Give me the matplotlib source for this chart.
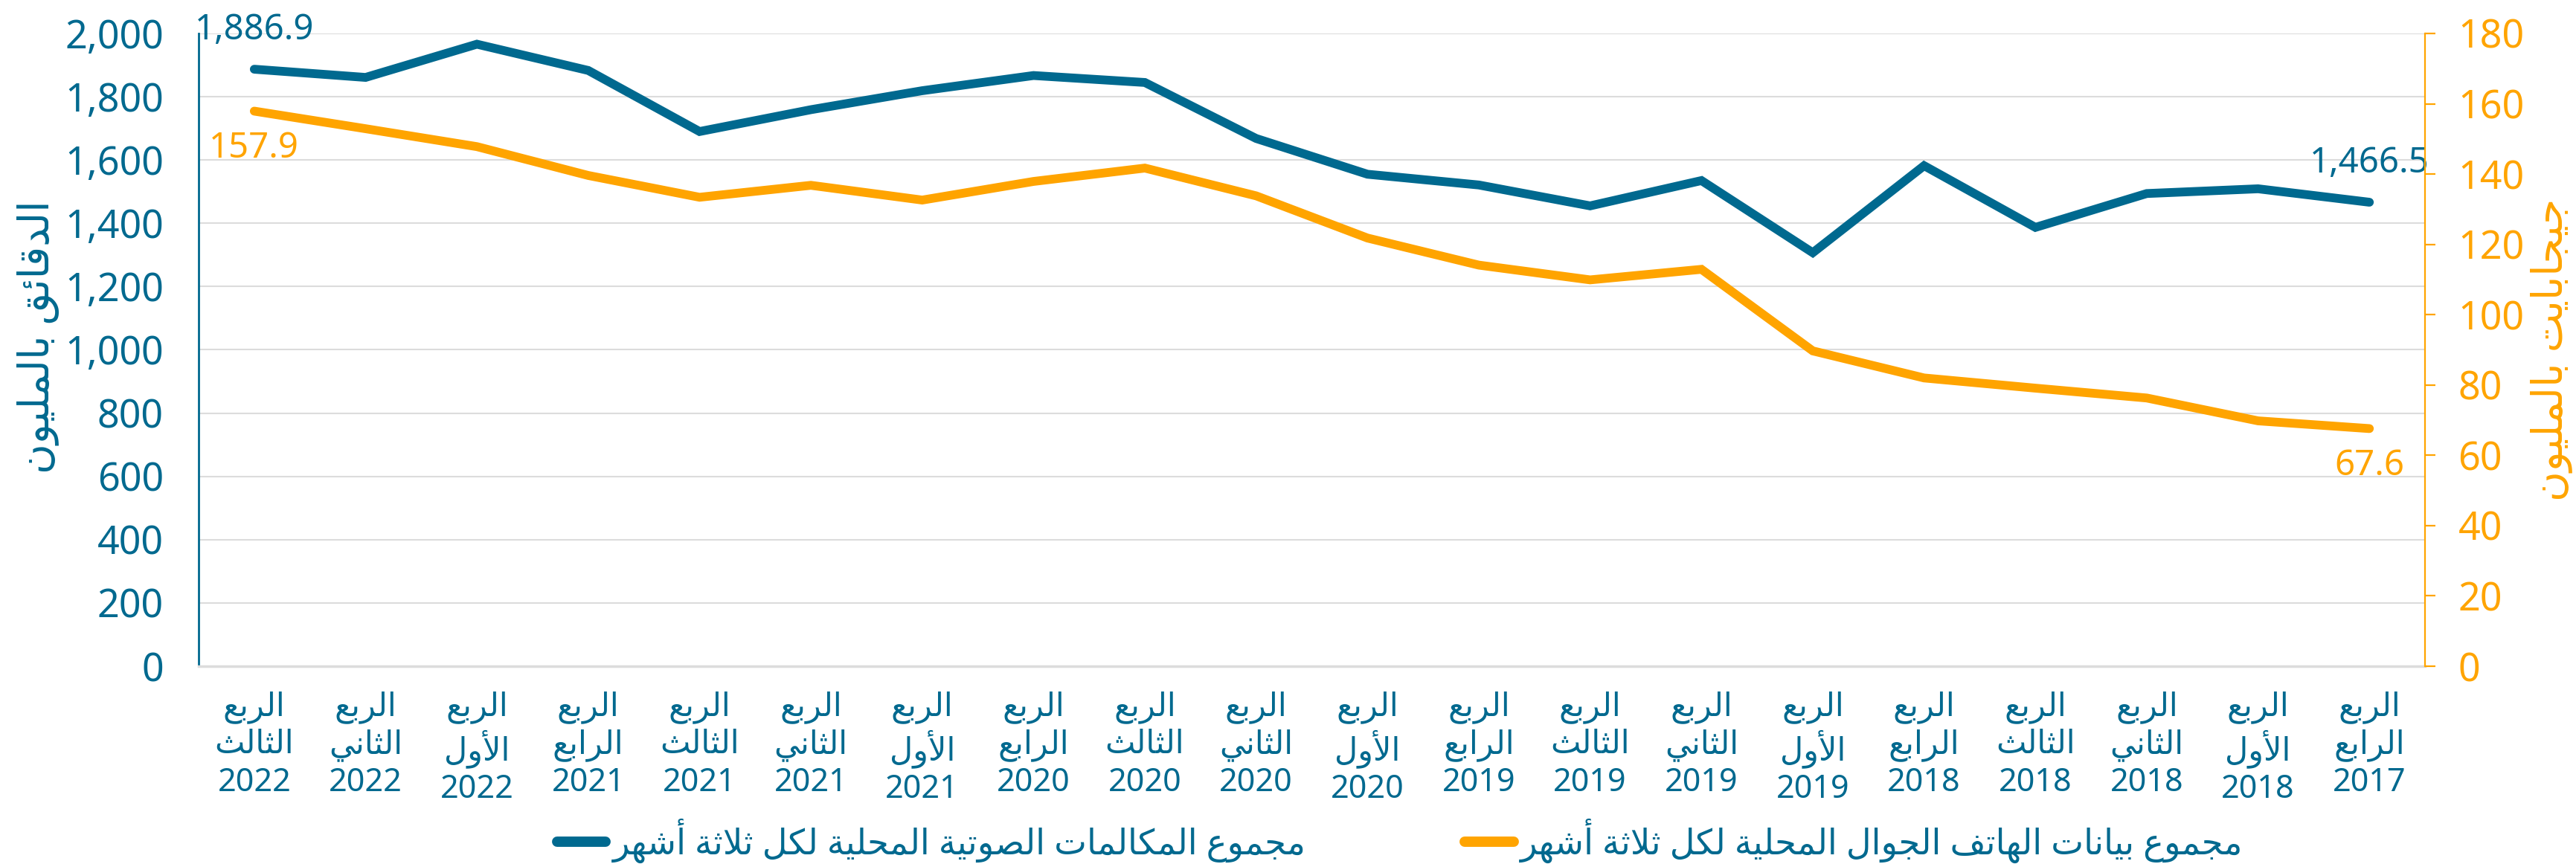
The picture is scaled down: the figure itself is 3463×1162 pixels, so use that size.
import numpy as np
import matplotlib
matplotlib.use('Agg')
import matplotlib.pyplot as plt
from matplotlib.ticker import FuncFormatter, MultipleLocator

plt.rcParams['font.family'] = ['Noto Sans', 'DejaVu Sans']

# matplotlib does no Arabic shaping, so map letters to presentation forms
DUAL = {'ئ': 0xFE89, 'ب': 0xFE8F, 'ت': 0xFE95, 'ث': 0xFE99, 'ج': 0xFE9D,
        'ح': 0xFEA1, 'خ': 0xFEA5, 'س': 0xFEB1, 'ش': 0xFEB5, 'ص': 0xFEB9,
        'ض': 0xFEBD, 'ط': 0xFEC1, 'ظ': 0xFEC5, 'ع': 0xFEC9, 'غ': 0xFECD,
        'ف': 0xFED1, 'ق': 0xFED5, 'ك': 0xFED9, 'ل': 0xFEDD, 'م': 0xFEE1,
        'ن': 0xFEE5, 'ه': 0xFEE9, 'ي': 0xFEF1}
RIGHT = {'آ': 0xFE81, 'أ': 0xFE83, 'ؤ': 0xFE85, 'إ': 0xFE87, 'ا': 0xFE8D,
         'ة': 0xFE93, 'د': 0xFEA9, 'ذ': 0xFEAB, 'ر': 0xFEAD, 'ز': 0xFEAF,
         'و': 0xFEED, 'ى': 0xFEEF}
LAM_ALEF = {'آ': 0xFEF5, 'أ': 0xFEF7, 'إ': 0xFEF9, 'ا': 0xFEFB}


def ar(text):
    out = []
    i = 0
    n = len(text)
    prev_joins = False
    while i < n:
        c = text[i]
        if c == 'ل' and i + 1 < n and text[i + 1] in LAM_ALEF:
            out.append(chr(LAM_ALEF[text[i + 1]] + (1 if prev_joins else 0)))
            prev_joins = False
            i += 2
            continue
        if c in DUAL:
            nxt = text[i + 1] if i + 1 < n else ''
            next_joins = nxt in DUAL or nxt in RIGHT
            base = DUAL[c]
            if prev_joins and next_joins:
                g = base + 3
            elif prev_joins:
                g = base + 1
            elif next_joins:
                g = base + 2
            else:
                g = base
            out.append(chr(g))
            prev_joins = next_joins
        elif c in RIGHT:
            out.append(chr(RIGHT[c] + (1 if prev_joins else 0)))
            prev_joins = False
        else:
            out.append(c)
            prev_joins = False
        i += 1
    return ''.join(reversed(out))


# data (left to right as in the chart)
quarters = ['الثالث', 'الثاني', 'الأول', 'الرابع', 'الثالث', 'الثاني', 'الأول',
            'الرابع', 'الثالث', 'الثاني', 'الأول', 'الرابع', 'الثالث', 'الثاني',
            'الأول', 'الرابع', 'الثالث', 'الثاني', 'الأول', 'الرابع']
years = ['2022', '2022', '2022', '2021', '2021', '2021', '2021', '2020', '2020',
         '2020', '2020', '2019', '2019', '2019', '2019', '2018', '2018', '2018',
         '2018', '2017']
voice_minutes = [1886.9, 1861, 1966, 1883, 1690, 1759, 1819, 1867, 1845, 1668,
                 1555, 1521, 1455, 1535, 1307, 1582, 1387, 1494, 1509, 1466.5]
data_gb = [157.9, 152.9, 147.8, 139.6, 133.4, 136.8, 132.6, 137.9, 141.7, 133.8,
           121.8, 114.1, 109.9, 112.9, 89.7, 82.0, 79.1, 76.3, 69.8, 67.6]

voice_label = 'مجموع المكالمات الصوتية المحلية لكل ثلاثة أشهر'
data_label = 'مجموع بيانات الهاتف الجوال المحلية لكل ثلاثة أشهر'
left_title = 'الدقائق بالمليون'
right_title = 'جيجابايت بالمليون'

blue = '#00698F'
orange = '#FFA400'
grid_c = '#DCDCDC'

fig = plt.figure(figsize=(34.63, 11.62), dpi=100)
ax = fig.add_axes([0.0771, 0.2289, 0.8643, 0.7324])
ax2 = ax.twinx()

x = np.arange(len(years))
l1, = ax.plot(x, voice_minutes, color=blue, lw=8.5, solid_capstyle='round',
              solid_joinstyle='miter', label=ar(voice_label), zorder=3)
l2, = ax2.plot(x, data_gb, color=orange, lw=8.5, solid_capstyle='round',
               solid_joinstyle='miter', label=ar(data_label), zorder=3)

ax.set_xlim(-0.5, len(years) - 0.5)
ax.set_ylim(0, 2000)
ax2.set_ylim(0, 180)
ax.yaxis.set_major_locator(MultipleLocator(200))
ax2.yaxis.set_major_locator(MultipleLocator(20))
ax.yaxis.set_major_formatter(FuncFormatter(lambda v, p: '{:,.0f}'.format(v)))

ax.set_xticks(x)
ax.set_xticklabels([ar('الربع') + '\n' + ar(q) + '\n' + y
                    for q, y in zip(quarters, years)],
                   fontsize=31, color=blue, linespacing=1.2)
ax.tick_params(axis='x', length=0, pad=24)
ax.tick_params(axis='y', length=0, pad=34, labelsize=37.5, labelcolor=blue)
ax2.tick_params(axis='y', length=10, width=1.6, color=orange, pad=22,
                labelsize=37.5, labelcolor=orange)

ax.grid(axis='y', color=grid_c, lw=1.5)
ax.set_axisbelow(True)
for s in ['top', 'right']:
    ax.spines[s].set_visible(False)
for s in ['top', 'left', 'bottom']:
    ax2.spines[s].set_visible(False)
ax.spines['left'].set_color(blue)
ax.spines['left'].set_linewidth(2)
ax.spines['bottom'].set_color(grid_c)
ax.spines['bottom'].set_linewidth(2.5)
ax2.spines['right'].set_color(orange)
ax2.spines['right'].set_linewidth(1.6)

ax.set_ylabel(ar(left_title), fontsize=40, color=blue)
ax.yaxis.set_label_coords(-0.0625, 0.52)
ax2.set_ylabel(ar(right_title), fontsize=40, color=orange, rotation=90)
ax2.yaxis.set_label_coords(1.047, 0.5)

# end point labels
ax.annotate('{:,.1f}'.format(voice_minutes[0]), (x[0], voice_minutes[0]),
            xytext=(0, 38), textcoords='offset points', ha='center', va='center',
            fontsize=34, color=blue)
ax.annotate('{:,.1f}'.format(voice_minutes[-1]), (x[-1], voice_minutes[-1]),
            xytext=(0, 38), textcoords='offset points', ha='center', va='center',
            fontsize=34, color=blue)
ax2.annotate('{:.1f}'.format(data_gb[0]), (x[0], data_gb[0]),
             xytext=(0, -36), textcoords='offset points', ha='center', va='center',
             fontsize=34, color=orange)
ax2.annotate('{:.1f}'.format(data_gb[-1]), (x[-1], data_gb[-1]),
             xytext=(0, -36), textcoords='offset points', ha='center', va='center',
             fontsize=34, color=orange)

leg = fig.legend(handles=[l1, l2], loc='center', bbox_to_anchor=(0.5435, 0.027),
                 ncol=2, frameon=False, fontsize=33.5, handlelength=1.4,
                 handletextpad=0.2, columnspacing=4.6)
for t in leg.get_texts():
    t.set_color(blue)
for h in leg.legend_handles:
    h.set_linewidth(10)

fig.savefig('out.png', dpi=100)
